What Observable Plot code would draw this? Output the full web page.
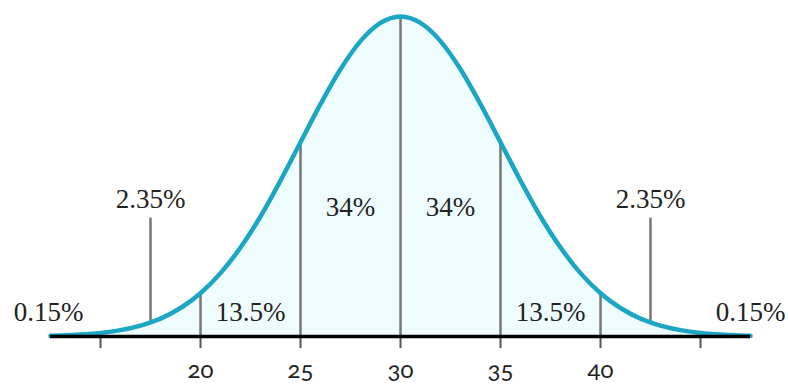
<!DOCTYPE html>
<html>
<head>
<meta charset="utf-8">
<script src="https://cdn.jsdelivr.net/npm/d3@7"></script>
<script src="https://cdn.jsdelivr.net/npm/@observablehq/plot@0.6"></script>
<style>
  html, body { margin: 0; padding: 0; background: #fff; }
  #chart svg { display: block; }
</style>
</head>
<body>
<div id="chart"></div>
<script>
// Curve: x values and relative density heights (peak = 100)
const curveX = [12.5, 13, 14, 15, 16, 17, 17.5, 18, 19, 20, 21, 22, 23, 24, 25, 26, 27, 28, 29, 30,
                31, 32, 33, 34, 35, 36, 37, 38, 39, 40, 41, 42, 42.5, 43, 44, 45, 46, 47, 47.5];
const curveY = [0.2, 0.3, 0.6, 1.1, 2.0, 3.4, 4.4, 5.6, 8.9, 13.5, 19.8, 27.8, 37.5, 48.7, 60.7, 72.6, 83.5, 92.3, 98.0, 100,
                98.0, 92.3, 83.5, 72.6, 60.7, 48.7, 37.5, 27.8, 19.8, 13.5, 8.9, 5.6, 4.4, 3.4, 2.0, 1.1, 0.6, 0.3, 0.2];

// Vertical dividers from baseline up to the curve
const dividerX = [20, 25, 30, 35, 40];
// Leader lines from the curve up to the 2.35% labels
const leaderX = [17.5, 42.5];
const leaderTop = 37;

// Axis ticks and labels
const tickValues = [15, 20, 25, 30, 35, 40, 45];
const tickLabels = ["", "20", "25", "30", "35", "40", ""];

// Percentage labels
const pctLabels = ["0.15%", "2.35%", "13.5%", "34%", "34%", "13.5%", "2.35%", "0.15%"];
const pctX      = [12.4, 17.5, 22.5, 27.5, 32.5, 37.5, 42.5, 47.5];
const pctY      = [7.4, 43, 7.6, 40.3, 40.3, 7.6, 43, 7.4];

const curve = curveX.map((x, i) => ({x, y: curveY[i]}));
const heightAt = x => curveY[curveX.indexOf(x)];
const dividers = dividerX.map(x => ({x, y1: 0, y2: heightAt(x)}));
const leaders = leaderX.map(x => ({x, y1: heightAt(x), y2: leaderTop}));
const labels = pctLabels.map((t, i) => ({t, x: pctX[i], y: pctY[i]}));

const chart = Plot.plot({
  width: 788,
  height: 386,
  marginLeft: 50,
  marginRight: 38,
  marginTop: 16,
  marginBottom: 50,
  x: {domain: [12.5, 47.5], axis: null},
  y: {domain: [0, 100], axis: null},
  style: {background: "#fff"},
  marks: [
    Plot.areaY(curve, {x: "x", y: "y", fill: "#effcfd", curve: "monotone-x"}),
    Plot.ruleX(dividers, {x: "x", y1: "y1", y2: "y2", stroke: "#777", strokeWidth: 2.5}),
    Plot.ruleX(leaders, {x: "x", y1: "y1", y2: "y2", stroke: "#777", strokeWidth: 2.5}),
    Plot.lineY(curve, {x: "x", y: "y", stroke: "#1ba6c3", strokeWidth: 4.5, curve: "monotone-x"}),
    Plot.axisX({
      ticks: tickValues,
      tickFormat: v => tickLabels[tickValues.indexOf(v)],
      tickSize: 12,
      tickPadding: 12,
      stroke: "#555",
      strokeWidth: 2,
      fill: "#222",
      fontSize: 24,
      fontFamily: "Lato",
      label: null
    }),
    Plot.ruleY([0], {stroke: "#000", strokeWidth: 3.5}),
    Plot.text(labels, {x: "x", y: "y", text: "t", fill: "#222",
      fontFamily: "Liberation Serif, serif", fontSize: 27})
  ]
});
chart.querySelectorAll("text").forEach(t => t.style.fontVariantNumeric = "oldstyle-nums");
document.getElementById("chart").appendChild(chart);
</script>
</body>
</html>
